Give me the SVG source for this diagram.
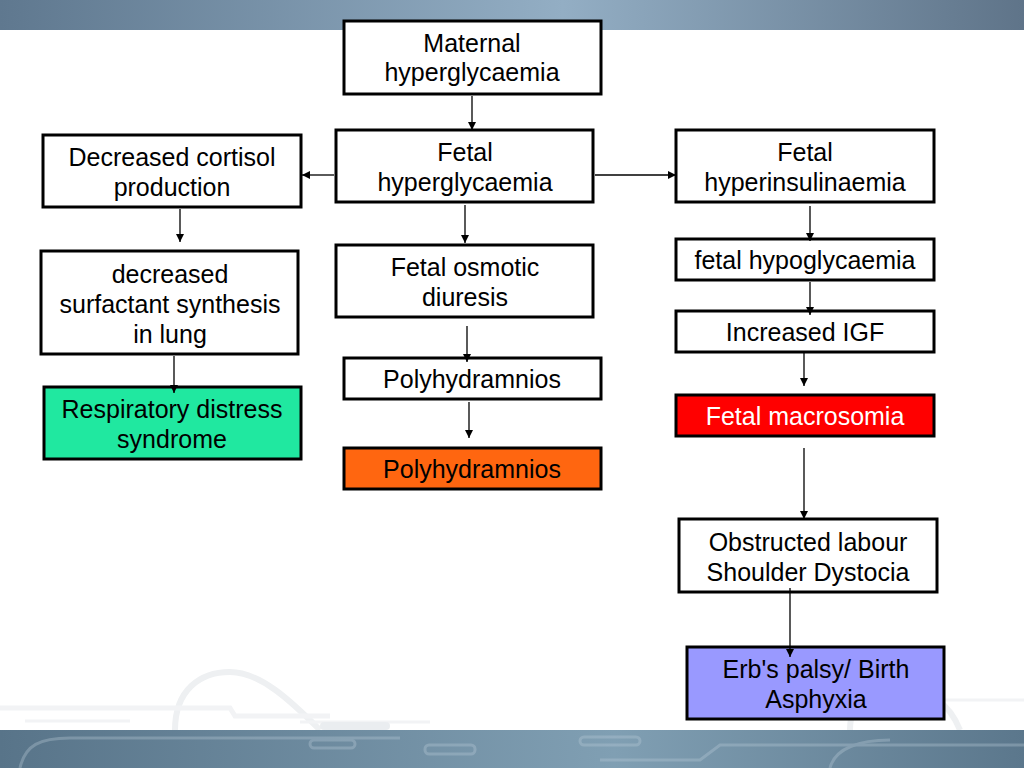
<svg xmlns="http://www.w3.org/2000/svg" width="1024" height="768" viewBox="0 0 1024 768">
<defs>
<linearGradient id="topg" x1="0" y1="0" x2="1" y2="0">
<stop offset="0" stop-color="#5f788f"/>
<stop offset="0.55" stop-color="#93aec4"/>
<stop offset="1" stop-color="#5f7489"/>
</linearGradient>
<linearGradient id="botg" x1="0" y1="0" x2="1" y2="0">
<stop offset="0" stop-color="#587489"/>
<stop offset="0.6" stop-color="#809fb3"/>
<stop offset="1" stop-color="#5b778c"/>
</linearGradient>
<marker id="ah" viewBox="0 0 10 10" refX="10" refY="5" markerWidth="8" markerHeight="8" markerUnits="userSpaceOnUse" orient="auto">
<path d="M0,0 L10,5 L0,10 z" fill="#000"/>
</marker>
</defs>
<style>
.box{stroke:#000;stroke-width:3}
.t{font-family:"Liberation Sans",Arial,sans-serif;font-size:25px;text-anchor:middle;fill:#000}
.w{fill:#fff}
.c{stroke:#000;stroke-width:1.3;fill:none;marker-end:url(#ah)}
.deco{fill:none;stroke:#eef0f2;stroke-width:6}
</style>
<rect width="1024" height="768" fill="#fff"/>
<rect x="0" y="0" width="1024" height="30" fill="url(#topg)"/>
<g id="decoration">
<path class="deco" d="M175,730 C175,690 200,672 230,672 C260,672 290,700 320,730"/>
<path d="M0,708 L230,708 L235,716 L330,716" fill="none" stroke="#f2f3f5" stroke-width="5"/>
<path d="M25,721 L130,721 M300,722 L430,722" fill="none" stroke="#f2f3f5" stroke-width="3"/>
<rect x="320" y="722" width="70" height="8" rx="4" fill="#eaedf0"/>
<path class="deco" d="M850,730 C850,700 870,688 900,688 C930,688 950,705 960,730" stroke-width="4"/>
<path d="M945,700 L1024,700" fill="none" stroke="#f2f3f5" stroke-width="3"/>
</g>
<rect x="0" y="730" width="1024" height="38" fill="url(#botg)"/>
<g opacity="0.35" fill="none" stroke="#b9cbd8" stroke-width="3">
<path d="M20,768 C25,745 40,738 70,738 L400,738"/>
<rect x="310" y="740" width="45" height="8" rx="4"/>
<rect x="425" y="745" width="50" height="9" rx="4"/>
<rect x="580" y="737" width="60" height="8" rx="4"/>
<path d="M600,760 L700,760 L720,745 L1024,745"/>
<path d="M830,768 C835,748 860,740 890,740"/>
</g>

<g id="maternal">
<rect class="box" x="344" y="21" width="257" height="73" fill="#fff"/>
<text class="t" x="472" y="52">Maternal</text>
<text class="t" x="472" y="81">hyperglycaemia</text>
</g>
<g id="fetal-hyperglycaemia">
<rect class="box" x="336" y="130" width="257" height="72" fill="#fff"/>
<text class="t" x="465" y="161">Fetal</text>
<text class="t" x="465" y="191">hyperglycaemia</text>
</g>
<g id="cortisol">
<rect class="box" x="43" y="135" width="258" height="72" fill="#fff"/>
<text class="t" x="172" y="166">Decreased cortisol</text>
<text class="t" x="172" y="196">production</text>
</g>
<g id="hyperinsulinaemia">
<rect class="box" x="676" y="130" width="258" height="72" fill="#fff"/>
<text class="t" x="805" y="161">Fetal</text>
<text class="t" x="805" y="191">hyperinsulinaemia</text>
</g>
<g id="surfactant">
<rect class="box" x="41" y="251" width="257" height="103" fill="#fff"/>
<text class="t" x="170" y="283">decreased</text>
<text class="t" x="170" y="313">surfactant synthesis</text>
<text class="t" x="170" y="343">in lung</text>
</g>
<g id="osmotic">
<rect class="box" x="336" y="245" width="257" height="72" fill="#fff"/>
<text class="t" x="465" y="276">Fetal osmotic</text>
<text class="t" x="465" y="306">diuresis</text>
</g>
<g id="hypoglycaemia">
<rect class="box" x="676" y="239" width="258" height="41" fill="#fff"/>
<text class="t" x="805" y="269">fetal hypoglycaemia</text>
</g>
<g id="igf">
<rect class="box" x="676" y="311" width="258" height="41" fill="#fff"/>
<text class="t" x="805" y="341">Increased IGF</text>
</g>
<g id="polyhydramnios-1">
<rect class="box" x="344" y="358" width="257" height="41" fill="#fff"/>
<text class="t" x="472" y="388">Polyhydramnios</text>
</g>
<g id="rds">
<rect class="box" x="44" y="387" width="257" height="72" fill="#20e8a0"/>
<text class="t" x="172" y="418">Respiratory distress</text>
<text class="t" x="172" y="448">syndrome</text>
</g>
<g id="polyhydramnios-2">
<rect class="box" x="344" y="448" width="257" height="41" fill="#ff6610"/>
<text class="t" x="472" y="478">Polyhydramnios</text>
</g>
<g id="macrosomia">
<rect class="box" x="676" y="395" width="258" height="41" fill="#ff0000"/>
<text class="t w" x="805" y="425">Fetal macrosomia</text>
</g>
<g id="obstructed">
<rect class="box" x="679" y="519" width="258" height="73" fill="#fff"/>
<text class="t" x="808" y="551">Obstructed labour</text>
<text class="t" x="808" y="581">Shoulder Dystocia</text>
</g>
<g id="erbs">
<rect class="box" x="687" y="647" width="257" height="72" fill="#9999ff"/>
<text class="t" x="816" y="678">Erb's palsy/ Birth</text>
<text class="t" x="816" y="708">Asphyxia</text>
</g>

<g id="connectors">
<line class="c" x1="472" y1="96" x2="472" y2="130"/>
<line class="c" x1="334" y1="175" x2="302" y2="175"/>
<line class="c" x1="595" y1="175" x2="676" y2="175"/>
<line class="c" x1="465" y1="205" x2="465" y2="243"/>
<line class="c" x1="180" y1="209" x2="180" y2="242"/>
<line class="c" x1="174" y1="356" x2="174" y2="393"/>
<line class="c" x1="467" y1="326" x2="467" y2="362"/>
<line class="c" x1="469" y1="402" x2="469" y2="438"/>
<line class="c" x1="810" y1="206" x2="810" y2="241"/>
<line class="c" x1="810" y1="282" x2="810" y2="315"/>
<line class="c" x1="804" y1="352" x2="804" y2="386"/>
<line class="c" x1="804" y1="448" x2="804" y2="519"/>
<line class="c" x1="790" y1="588" x2="790" y2="657"/>
</g>
</svg>
